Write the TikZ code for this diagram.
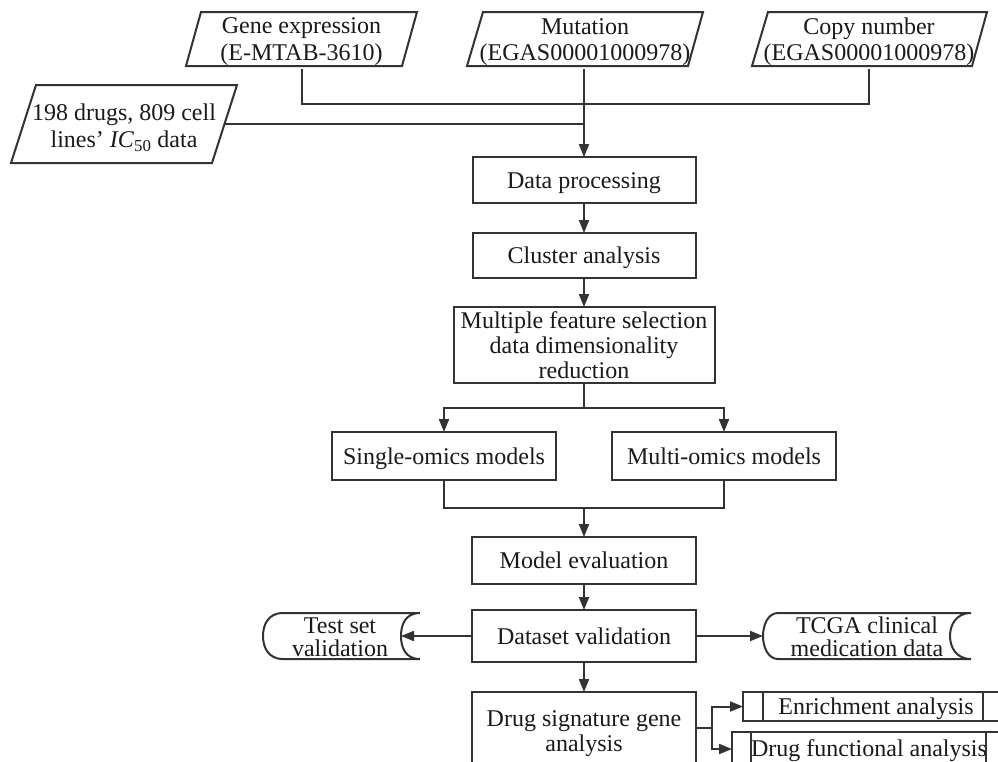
\documentclass[tikz,border=0pt]{standalone}
\usepackage{fontspec}
\setmainfont{Liberation Serif}
\usetikzlibrary{arrows.meta}
\definecolor{ln}{HTML}{333333}
\definecolor{tx}{HTML}{1A1A1A}
\begin{document}
\begin{tikzpicture}[x=1pt,y=-1pt,
 font=\fontsize{24}{25}\selectfont, text=tx,
 every node/.style={inner sep=0pt, outer sep=0pt, align=center},
 box/.style={draw=ln, line width=2pt, fill=white},
 one/.style={text height=16pt, text depth=0pt},
 conn/.style={draw=ln, line width=2pt},
 arr/.style={conn, -{Triangle[length=13pt,width=10pt]}},
 shp/.style={draw=ln, line width=2pt, line join=miter}]
\useasboundingbox (0,0) rectangle (998,761);
\fill[white] (0,0) rectangle (998,761);
\clip (0,0) rectangle (998,761);

% input parallelograms
\draw[shp] (201,12) -- (417,12) -- (402,66) -- (186,66) -- cycle;
\node[minimum width=216pt, minimum height=54pt] (gene) at (301.5,42) {Gene expression\\[2pt](E-MTAB-3610)};
\draw[shp] (483,12) -- (703,12) -- (688,66) -- (467,66) -- cycle;
\node[minimum width=220pt, minimum height=54pt] (mut) at (585,42) {Mutation\\[1pt](EGAS00001000978)};
\draw[shp] (768,12) -- (987,12) -- (972,66) -- (752,66) -- cycle;
\node[minimum width=219pt, minimum height=54pt] (copy) at (869,42) {Copy number\\[1pt](EGAS00001000978)};
\draw[shp] (36,85) -- (237,85) -- (212,163) -- (11,163) -- cycle;
\node[minimum width=201pt, minimum height=78pt] (ic) at (124,124) {};
\node (ict) at (124,128) {198 drugs, 809 cell\\[2pt]lines’ \textit{IC}\textsubscript{50} data};

% main boxes
\node[box, one, minimum width=223pt, minimum height=46pt] (dp) at (584,180) {Data processing};
\node[box, one, minimum width=223pt, minimum height=45pt] (ca) at (584,255.5) {Cluster analysis};
\node[box, minimum width=261pt, minimum height=76pt] (mfs) at (584,345) {Multiple feature selection\\data dimensionality\\reduction};
\node[box, one, minimum width=224pt, minimum height=48pt] (som) at (444,456) {Single-omics models};
\node[box, one, minimum width=224pt, minimum height=48pt] (mom) at (724,456) {Multi-omics models};
\node[box, one, minimum width=224pt, minimum height=47pt] (me) at (584,560.5) {Model evaluation};
\node[box, one, minimum width=224pt, minimum height=52pt] (dv) at (584,636) {Dataset validation};
\node[box, minimum width=224pt, minimum height=84pt] (dsg) at (584,734) {Drug signature gene\\analysis};

% stored data shapes
\draw[shp] (420,613) -- (283,613) .. controls (268,613) and (263,625) .. (263,636)
  .. controls (263,647) and (268,659) .. (283,659) -- (420,659)
  .. controls (405,659) and (401,647) .. (401,636)
  .. controls (401,625) and (405,613) .. (420,613) -- cycle;
\node (test) at (340,637) {Test set\\[-2pt]validation};
\coordinate (testin) at (401,636);
\draw[shp] (971,613) -- (778,613) .. controls (768,613) and (763,625) .. (763,636)
  .. controls (763,647) and (768,659) .. (778,659) -- (971,659)
  .. controls (956,659) and (950,647) .. (950,636)
  .. controls (950,625) and (956,613) .. (971,613) -- cycle;
\node (tcga) at (867,637) {TCGA clinical\\[-2pt]medication data};
\coordinate (tcgain) at (763,636);

% predefined processes
\node[box, minimum width=260pt, minimum height=29pt] (enr) at (873,706.5) {};
\draw[conn] (763,692) -- (763,721) (983,692) -- (983,721);
\node[one] (enrt) at (876,706.5) {Enrichment analysis};
\node[box, minimum width=271pt, minimum height=34pt] (dfa) at (867.5,749) {};
\draw[conn] (751,732) -- (751,766) (986,732) -- (986,766);
\node[one] (dfat) at (869,748) {Drug functional analysis};

% connectors
\coordinate (jtop) at (584,104);
\draw[conn] (gene.south) |- (jtop);
\draw[conn] (copy.south) |- (jtop);
\draw[conn] (ic.east) -- (ic.east -| jtop);
\draw[arr] (mut.south -| jtop) -- (dp.north);
\draw[arr] (dp.south) -- (ca.north);
\draw[arr] (ca.south) -- (mfs.north);
\coordinate (split) at (584,408);
\draw[conn] (mfs.south) -- (split);
\draw[arr] (split) -| (som.north);
\draw[arr] (split) -| (mom.north);
\coordinate (merge) at (584,508);
\draw[conn] (som.south) |- (merge);
\draw[conn] (mom.south) |- (merge);
\draw[arr] (merge) -- (me.north);
\draw[arr] (me.south) -- (dv.north);
\draw[arr] (dv.west) -- (testin);
\draw[arr] (dv.east) -- (tcgain);
\draw[arr] (dv.south) -- (dsg.north);
\coordinate (br) at (712,728);
\draw[conn] (dsg.east |- br) -- (br);
\draw[arr] (br) |- (enr.west);
\draw[arr] (br) |- (dfa.west);
\end{tikzpicture}
\end{document}
